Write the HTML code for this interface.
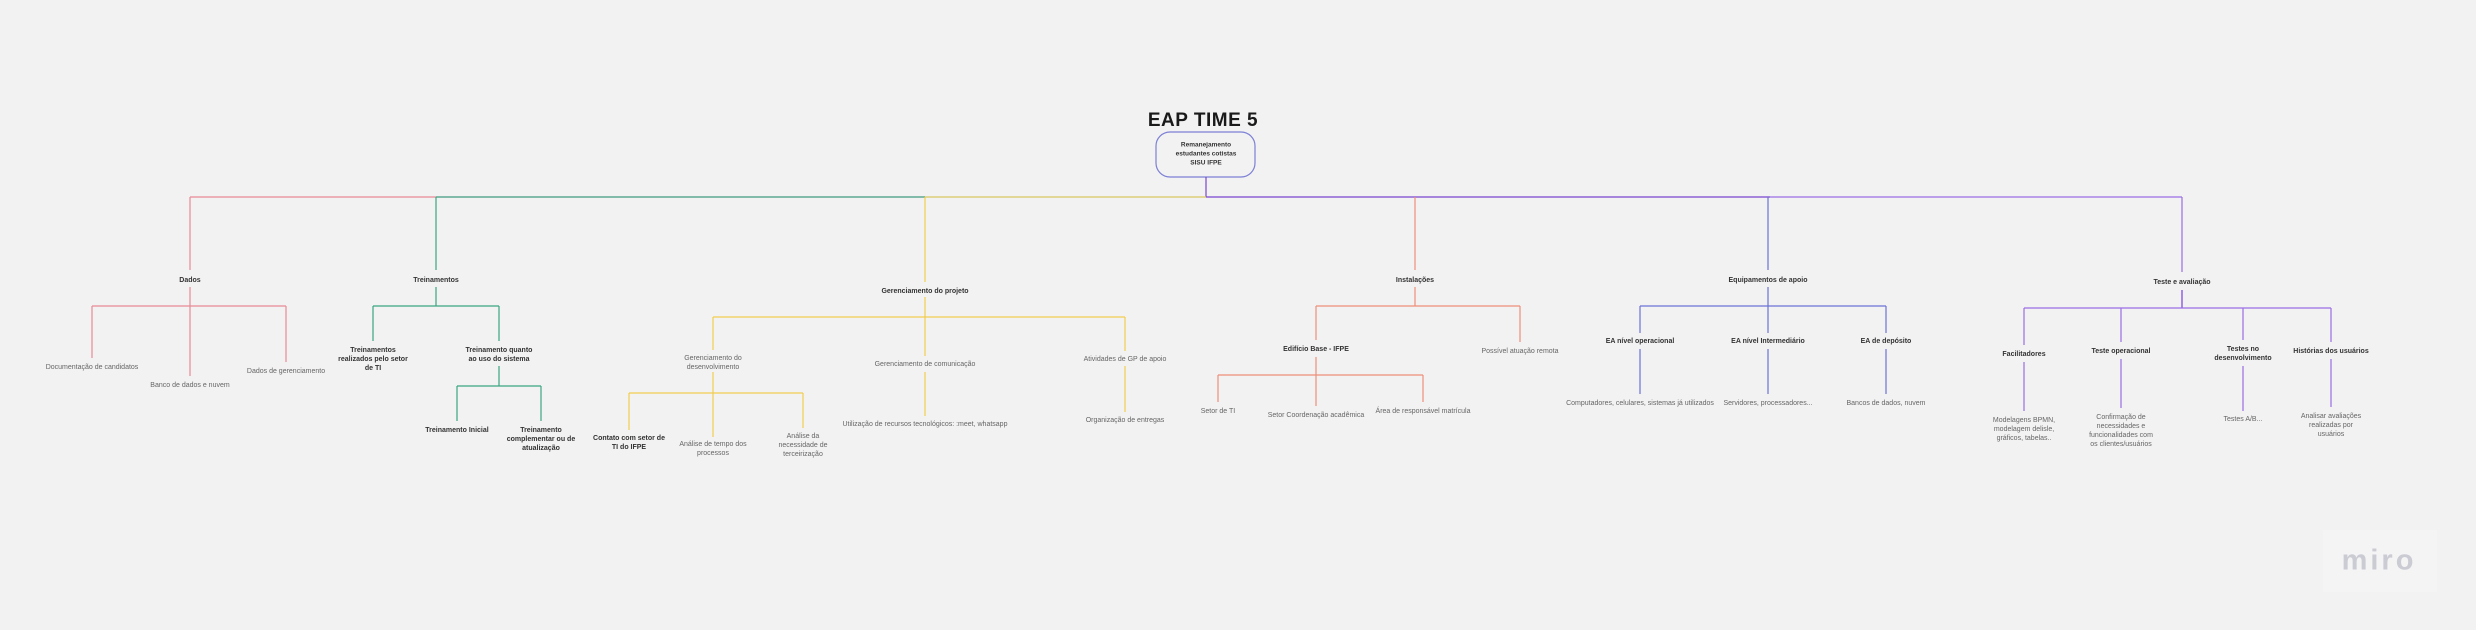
<!DOCTYPE html>
<html><head><meta charset="utf-8"><style>
html,body{margin:0;padding:0;background:#f2f2f2;width:2476px;height:630px;overflow:hidden}
svg{display:block}
text{font-family:"Liberation Sans",sans-serif;font-size:7px;text-anchor:middle;dominant-baseline:middle}
.b{font-weight:bold;fill:#333}
.n{fill:#666}
line,polyline{fill:none;stroke-width:1.2}
</style></head><body>
<svg width="2476" height="630" viewBox="0 0 2476 630">
<rect width="2476" height="630" fill="#f2f2f2"/>
<!-- title -->
<text x="1203" y="121" style="font-size:19px;font-weight:bold;fill:#1a1a1a;letter-spacing:0.5px">EAP TIME 5</text>
<rect x="1156" y="132" width="99" height="45" rx="14" fill="#f2f2f2" stroke="#7d80d6" stroke-width="1.2"/>
<text class="b" x="1206" y="145" style="font-size:6.5px">Remanejamento</text>
<text class="b" x="1206" y="154" style="font-size:6.5px">estudantes cotistas</text>
<text class="b" x="1206" y="163" style="font-size:6.5px">SISU IFPE</text>
<line x1="1206" y1="177" x2="1206" y2="197" stroke="#7a45d0"/>
<!-- top bar -->
<line x1="190" y1="197" x2="436" y2="197" stroke="#e88a95"/>
<line x1="436" y1="197" x2="925" y2="197" stroke="#3f9a7e"/>
<line x1="925" y1="197" x2="1206" y2="197" stroke="#d8c760"/>
<line x1="1206" y1="197" x2="1770" y2="197" stroke="#7a45d0"/>
<line x1="1770" y1="197" x2="2182" y2="197" stroke="#9a6ee6"/>

<!-- Dados -->
<g stroke="#e88a95">
<line x1="190" y1="197" x2="190" y2="270"/><line x1="190" y1="287" x2="190" y2="306"/>
<line x1="92" y1="306" x2="286" y2="306"/>
<line x1="92" y1="306" x2="92" y2="358"/><line x1="190" y1="306" x2="190" y2="376"/><line x1="286" y1="306" x2="286" y2="362"/>
</g>
<text class="b" x="190" y="280">Dados</text>
<text class="n" x="92" y="367">Documentação de candidatos</text>
<text class="n" x="190" y="385">Banco de dados e nuvem</text>
<text class="n" x="286" y="371">Dados de gerenciamento</text>

<!-- Treinamentos -->
<g stroke="#3aa583">
<line x1="436" y1="197" x2="436" y2="270"/><line x1="436" y1="287" x2="436" y2="306"/>
<line x1="373" y1="306" x2="499" y2="306"/>
<line x1="373" y1="306" x2="373" y2="341"/><line x1="499" y1="306" x2="499" y2="341"/>
<line x1="499" y1="366" x2="499" y2="386"/>
<line x1="457" y1="386" x2="541" y2="386"/>
<line x1="457" y1="386" x2="457" y2="421"/><line x1="541" y1="386" x2="541" y2="421"/>
</g>
<text class="b" x="436" y="280">Treinamentos</text>
<text class="b" x="373" y="350">Treinamentos</text><text class="b" x="373" y="359">realizados pelo setor</text><text class="b" x="373" y="368">de TI</text>
<text class="b" x="499" y="350">Treinamento quanto</text><text class="b" x="499" y="359">ao uso do sistema</text>
<text class="b" x="457" y="430">Treinamento Inicial</text>
<text class="b" x="541" y="430">Treinamento</text><text class="b" x="541" y="439">complementar ou de</text><text class="b" x="541" y="448">atualização</text>

<!-- Gerenciamento -->
<g stroke="#f2cd4f">
<line x1="925" y1="197" x2="925" y2="282"/><line x1="925" y1="297" x2="925" y2="317"/>
<line x1="713" y1="317" x2="1125" y2="317"/>
<line x1="713" y1="317" x2="713" y2="350"/><line x1="925" y1="317" x2="925" y2="356"/><line x1="1125" y1="317" x2="1125" y2="351"/>
<line x1="713" y1="372" x2="713" y2="393"/>
<line x1="629" y1="393" x2="803" y2="393"/>
<line x1="629" y1="393" x2="629" y2="430"/><line x1="713" y1="393" x2="713" y2="437"/><line x1="803" y1="393" x2="803" y2="428"/>
<line x1="925" y1="372" x2="925" y2="416"/>
<line x1="1125" y1="366" x2="1125" y2="412"/>
</g>
<text class="b" x="925" y="291">Gerenciamento do projeto</text>
<text class="n" x="713" y="358">Gerenciamento do</text><text class="n" x="713" y="367">desenvolvimento</text>
<text class="n" x="925" y="364">Gerenciamento de comunicação</text>
<text class="n" x="1125" y="359">Atividades de GP de apoio</text>
<text class="b" x="629" y="438">Contato com setor de</text><text class="b" x="629" y="447">TI do IFPE</text>
<text class="n" x="713" y="444">Análise de tempo dos</text><text class="n" x="713" y="453">processos</text>
<text class="n" x="803" y="436">Análise da</text><text class="n" x="803" y="445">necessidade de</text><text class="n" x="803" y="454">terceirização</text>
<text class="n" x="925" y="424">Utilização de recursos tecnológicos: :meet, whatsapp</text>
<text class="n" x="1125" y="420">Organização de entregas</text>

<!-- Instalações -->
<g stroke="#f08f7a">
<line x1="1415" y1="197" x2="1415" y2="270"/><line x1="1415" y1="287" x2="1415" y2="306"/>
<line x1="1316" y1="306" x2="1520" y2="306"/>
<line x1="1316" y1="306" x2="1316" y2="340"/><line x1="1520" y1="306" x2="1520" y2="342"/>
<line x1="1316" y1="357" x2="1316" y2="375"/>
<line x1="1218" y1="375" x2="1423" y2="375"/>
<line x1="1218" y1="375" x2="1218" y2="402"/><line x1="1316" y1="375" x2="1316" y2="406"/><line x1="1423" y1="375" x2="1423" y2="402"/>
</g>
<text class="b" x="1415" y="280">Instalações</text>
<text class="b" x="1316" y="349">Edifício Base - IFPE</text>
<text class="n" x="1520" y="351">Possível atuação remota</text>
<text class="n" x="1218" y="411">Setor de TI</text>
<text class="n" x="1316" y="415">Setor Coordenação acadêmica</text>
<text class="n" x="1423" y="411">Área de responsável matrícula</text>

<!-- Equipamentos -->
<g stroke="#6b72d6">
<line x1="1768" y1="197" x2="1768" y2="270"/><line x1="1768" y1="287" x2="1768" y2="306"/>
<line x1="1640" y1="306" x2="1886" y2="306"/>
<line x1="1640" y1="306" x2="1640" y2="333"/><line x1="1768" y1="306" x2="1768" y2="333"/><line x1="1886" y1="306" x2="1886" y2="333"/>
<line x1="1640" y1="349" x2="1640" y2="394"/><line x1="1768" y1="349" x2="1768" y2="394"/><line x1="1886" y1="349" x2="1886" y2="394"/>
</g>
<text class="b" x="1768" y="280">Equipamentos de apoio</text>
<text class="b" x="1640" y="341">EA nível operacional</text>
<text class="b" x="1768" y="341">EA nível Intermediário</text>
<text class="b" x="1886" y="341">EA de depósito</text>
<text class="n" x="1640" y="403">Computadores, celulares, sistemas já utilizados</text>
<text class="n" x="1768" y="403">Servidores, processadores...</text>
<text class="n" x="1886" y="403">Bancos de dados, nuvem</text>

<!-- Teste -->
<g stroke="#9a6ee6">
<line x1="2182" y1="197" x2="2182" y2="272"/><line x1="2182" y1="290" x2="2182" y2="308" stroke="#7a3fe0"/>
<line x1="2024" y1="308" x2="2331" y2="308"/>
<line x1="2024" y1="308" x2="2024" y2="345"/><line x1="2121" y1="308" x2="2121" y2="342"/><line x1="2243" y1="308" x2="2243" y2="340"/><line x1="2331" y1="308" x2="2331" y2="342"/>
<line x1="2024" y1="362" x2="2024" y2="411"/><line x1="2121" y1="359" x2="2121" y2="408"/><line x1="2243" y1="366" x2="2243" y2="411"/><line x1="2331" y1="359" x2="2331" y2="407"/>
</g>
<text class="b" x="2182" y="282">Teste e avaliação</text>
<text class="b" x="2024" y="354">Facilitadores</text>
<text class="b" x="2121" y="351">Teste operacional</text>
<text class="b" x="2243" y="349">Testes no</text><text class="b" x="2243" y="358">desenvolvimento</text>
<text class="b" x="2331" y="351">Histórias dos usuários</text>
<text class="n" x="2024" y="420">Modelagens BPMN,</text><text class="n" x="2024" y="429">modelagem delisle,</text><text class="n" x="2024" y="438">gráficos, tabelas..</text>
<text class="n" x="2121" y="417">Confirmação de</text><text class="n" x="2121" y="426">necessidades e</text><text class="n" x="2121" y="435">funcionalidades com</text><text class="n" x="2121" y="444">os clientes/usuários</text>
<text class="n" x="2243" y="419">Testes A/B...</text>
<text class="n" x="2331" y="416">Analisar avaliações</text><text class="n" x="2331" y="425">realizadas por</text><text class="n" x="2331" y="434">usuários</text>

<!-- miro -->
<rect x="2323" y="530" width="114" height="62" fill="#f4f4f5"/>
<text x="2379" y="562" style="font-size:29px;font-weight:bold;fill:#cbcbd4;letter-spacing:3px">miro</text>
</svg>
</body></html>
